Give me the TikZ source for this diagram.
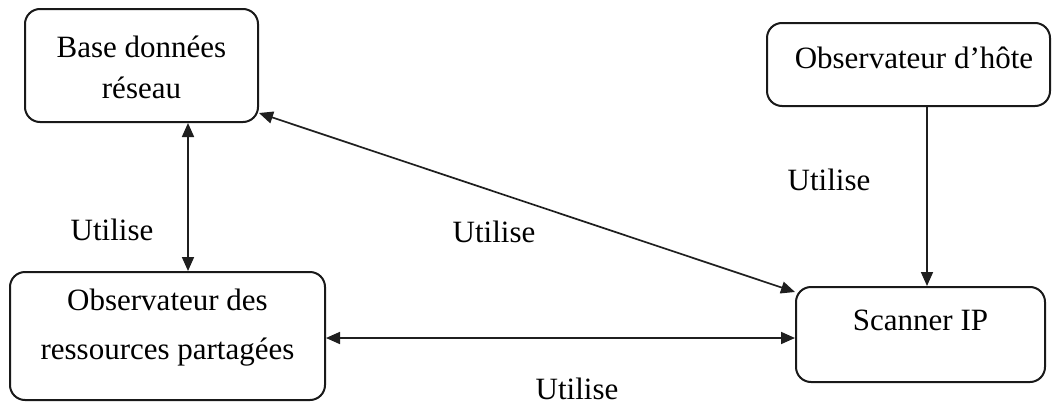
\documentclass[tikz,border=0pt]{standalone}
\usepackage{fontspec}
\setmainfont{Liberation Serif}
\usetikzlibrary{arrows.meta}
\begin{document}
\begin{tikzpicture}[x=1pt,y=-1pt,
  box/.style={draw=black!90, line width=2pt, rounded corners=15pt, inner sep=0pt},
  txt/.style={font=\fontsize{31}{41}\selectfont, align=center, inner sep=0pt},
  lbl/.style={font=\fontsize{31}{41}\selectfont, inner sep=0pt},
  conn/.style={line width=1.7pt, draw=black!88, -{Triangle[length=14pt,width=12pt]}},
  bconn/.style={conn, {Triangle[length=14pt,width=12pt]}-{Triangle[length=14pt,width=12pt]}}]
\useasboundingbox (0,0) rectangle (1053,407);
\fill[white] (0,0) rectangle (1053,407);
\node[box, minimum width=233pt, minimum height=113pt,
  label={[txt, yshift=-2pt]center:Base données\\réseau}] (bdr) at (141.5,65.5) {};
\node[box, minimum width=283pt, minimum height=83pt,
  label={[txt, xshift=5.5pt, yshift=6.5pt]center:Observateur d’hôte}] (oh) at (908.5,64.5) {};
\node[box, minimum width=315pt, minimum height=128pt,
  label={[txt, yshift=8.5pt, font=\fontsize{31}{49}\selectfont]center:Observateur des\\ressources partagées}] (ors) at (167.5,336) {};
\node[box, minimum width=249pt, minimum height=95pt,
  label={[txt, yshift=14.5pt]center:Scanner IP}] (sip) at (920.5,334.5) {};
\draw[bconn] ([xshift=46.5pt]bdr.south) -- ([xshift=20.5pt]ors.north);
\draw[bconn] ([yshift=10pt]bdr.south east) -- ([yshift=-6pt]sip.north west);
\draw[bconn] ([yshift=-2pt]ors.east) -- ([yshift=-3.5pt]sip.west);
\draw[conn] ([xshift=18.5pt]oh.south) -- ([xshift=6.5pt]sip.north);
\node[lbl] (u1) at (112,230) {Utilise};
\node[lbl] (u2) at (494,232) {Utilise};
\node[lbl] (u3) at (829,180) {Utilise};
\node[lbl] (u4) at (577,389) {Utilise};
\end{tikzpicture}
\end{document}
